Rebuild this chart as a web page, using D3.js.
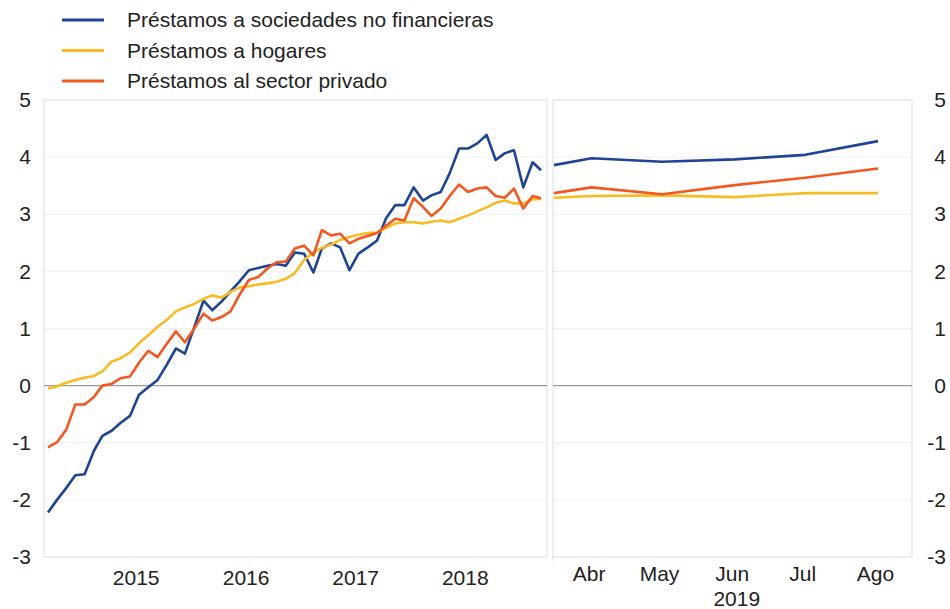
<!DOCTYPE html>
<html>
<head>
<meta charset="utf-8">
<script src="https://cdn.jsdelivr.net/npm/d3@7"></script>
<style>
  body { margin: 0; background: #fff; }
  text { font-family: "Liberation Sans", Arial, sans-serif; fill: #222; }
</style>
</head>
<body>
<div id="chart"></div>
<script>
// series names and colours
var seriesNames = ["Préstamos a sociedades no financieras", "Préstamos a hogares", "Préstamos al sector privado"];
var seriesColors = ["#1f4395", "#f7bb24", "#f2581f"];

// monthly data, Sep 2014 - Mar 2019
var months = d3.timeMonth.range(new Date(2014, 8, 1), new Date(2019, 3, 1));
var nfc = [-2.22, -2.0, -1.79, -1.57, -1.55, -1.14, -0.88, -0.79, -0.65, -0.53,
           -0.16, -0.03, 0.1, 0.36, 0.65, 0.56, 1.02, 1.49, 1.32, 1.47,
           1.65, 1.83, 2.02, 2.06, 2.1, 2.13, 2.1, 2.33, 2.31, 1.98,
           2.4, 2.49, 2.42, 2.02, 2.31, 2.42, 2.54, 2.93, 3.16, 3.16,
           3.47, 3.24, 3.33, 3.39, 3.72, 4.15, 4.15, 4.24, 4.39, 3.95,
           4.07, 4.12, 3.47, 3.91, 3.77];
var households = [-0.05, -0.01, 0.05, 0.1, 0.14, 0.17, 0.25, 0.42, 0.48, 0.58,
                  0.74, 0.88, 1.03, 1.15, 1.3, 1.37, 1.43, 1.52, 1.58, 1.54,
                  1.64, 1.72, 1.74, 1.77, 1.79, 1.82, 1.87, 1.97, 2.2, 2.33,
                  2.41, 2.47, 2.55, 2.6, 2.64, 2.67, 2.68, 2.76, 2.84, 2.86,
                  2.86, 2.84, 2.87, 2.89, 2.86, 2.92, 2.98, 3.05, 3.12, 3.2,
                  3.24, 3.19, 3.19, 3.26, 3.27];
var privateSector = [-1.08, -0.99, -0.77, -0.33, -0.33, -0.2, 0.0, 0.03, 0.13, 0.16,
                     0.4, 0.61, 0.5, 0.73, 0.95, 0.76, 1.0, 1.26, 1.14, 1.2,
                     1.3, 1.6, 1.85, 1.9, 2.05, 2.16, 2.17, 2.4, 2.45, 2.28,
                     2.72, 2.63, 2.66, 2.49, 2.57, 2.62, 2.67, 2.8, 2.92, 2.89,
                     3.28, 3.13, 2.97, 3.1, 3.32, 3.52, 3.39, 3.45, 3.47, 3.32,
                     3.29, 3.45, 3.1, 3.32, 3.28];

// 2019 panel
var recentDates = ["2019-03-16", "2019-04-01", "2019-05-01", "2019-06-01", "2019-07-01", "2019-08-01"];
var nfcRecent = [3.86, 3.98, 3.92, 3.96, 4.04, 4.28];
var householdsRecent = [3.29, 3.32, 3.33, 3.3, 3.37, 3.37];
var privateRecent = [3.37, 3.47, 3.35, 3.51, 3.64, 3.8];
var monthLabels = ["Abr", "May", "Jun", "Jul", "Ago"];
var yearTicks = [2015, 2016, 2017, 2018];
var yTicks = [-3, -2, -1, 0, 1, 2, 3, 4, 5];

var width = 950, height = 609;
var plotTop = 100, plotBottom = 557;
var leftBox = [44, 547], rightBox = [553, 912];

var svg = d3.select("#chart").append("svg")
    .attr("width", width)
    .attr("height", height);

var y = d3.scaleLinear().domain([-3, 5]).range([plotBottom, plotTop]);
var xl = d3.scaleTime().domain([months[0], months[months.length - 1]]).range([48, 541]);
var parse = d3.timeParse("%Y-%m-%d");
var rDates = recentDates.map(parse);
var xr = d3.scaleTime().domain([rDates[0], rDates[rDates.length - 1]]).range([554, 878]);

// panels with grid
[leftBox, rightBox].forEach(function (b) {
    svg.append("g").selectAll("line")
        .data(yTicks.filter(function (d) { return d != 0 && d != 5 && d != -3; }))
        .enter().append("line")
        .attr("x1", b[0]).attr("x2", b[1])
        .attr("y1", function (d) { return y(d); })
        .attr("y2", function (d) { return y(d); })
        .attr("stroke", "#efefef");
    svg.append("rect")
        .attr("x", b[0]).attr("y", plotTop)
        .attr("width", b[1] - b[0]).attr("height", plotBottom - plotTop)
        .attr("fill", "none").attr("stroke", "#dedede");
    svg.append("line")
        .attr("x1", b[0]).attr("x2", b[1])
        .attr("y1", y(0)).attr("y2", y(0))
        .attr("stroke", "#9a9a9a").attr("stroke-width", 1.2);
});
// small separator below the 2019 panel
svg.append("line")
    .attr("x1", rightBox[0]).attr("x2", rightBox[0])
    .attr("y1", plotBottom).attr("y2", plotBottom + 4)
    .attr("stroke", "#dedede");

// lines
var lineL = d3.line()
    .x(function (d, i) { return xl(months[i]); })
    .y(function (d) { return y(d); });
var lineR = d3.line()
    .x(function (d, i) { return xr(rDates[i]); })
    .y(function (d) { return y(d); });

[nfc, households, privateSector].forEach(function (s, k) {
    svg.append("path").datum(s)
        .attr("d", lineL)
        .attr("fill", "none")
        .attr("stroke", seriesColors[k])
        .attr("stroke-width", 2.6)
        .attr("stroke-linejoin", "round");
});
[householdsRecent, privateRecent, nfcRecent].forEach(function (s, k) {
    svg.append("path").datum(s)
        .attr("d", lineR)
        .attr("fill", "none")
        .attr("stroke", seriesColors[[1, 2, 0][k]])
        .attr("stroke-width", 2.6)
        .attr("stroke-linejoin", "round");
});

// axes
function styleAxis(g) {
    g.select(".domain").remove();
    g.selectAll("text").style("font-size", "21px").attr("fill", "#222");
}
var plain = function (d) { return String(d); };
svg.append("g").attr("transform", "translate(31,0)")
    .call(d3.axisLeft(y).tickValues(yTicks).tickFormat(plain).tickSize(0).tickPadding(0))
    .call(styleAxis);
svg.append("g").attr("transform", "translate(946,0)")
    .call(d3.axisLeft(y).tickValues(yTicks).tickFormat(plain).tickSize(0).tickPadding(0))
    .call(styleAxis);

svg.append("g").attr("transform", "translate(0," + plotBottom + ")")
    .call(d3.axisBottom(xl)
        .tickValues(yearTicks.map(function (yr) { return new Date(yr, 5, 20); }))
        .tickFormat(d3.timeFormat("%Y"))
        .tickSize(0).tickPadding(13))
    .call(styleAxis);

svg.append("g").attr("transform", "translate(0," + plotBottom + ")")
    .call(d3.axisBottom(xr)
        .tickValues(rDates.slice(1))
        .tickFormat(function (d, i) { return monthLabels[i]; })
        .tickSize(0).tickPadding(9))
    .call(styleAxis)
    .selectAll("text").attr("dx", "-3");

svg.append("text")
    .attr("x", xr(rDates[3]) + 2)
    .attr("y", 606)
    .attr("text-anchor", "middle")
    .style("font-size", "21px")
    .text("2019");

// legend
var legend = svg.append("g");
var legendOrder = [0, 1, 2];
legend.selectAll("g").data(legendOrder).enter().append("g")
    .attr("transform", function (d, i) { return "translate(0," + (20 + i * 30.5) + ")"; })
    .each(function (d) {
        var g = d3.select(this);
        g.append("line").attr("x1", 62).attr("x2", 104)
            .attr("stroke", seriesColors[d]).attr("stroke-width", 3);
        g.append("text").attr("x", 127).attr("dy", "0.35em")
            .style("font-size", "21px")
            .text(seriesNames[d]);
    });
</script>
</body>
</html>
